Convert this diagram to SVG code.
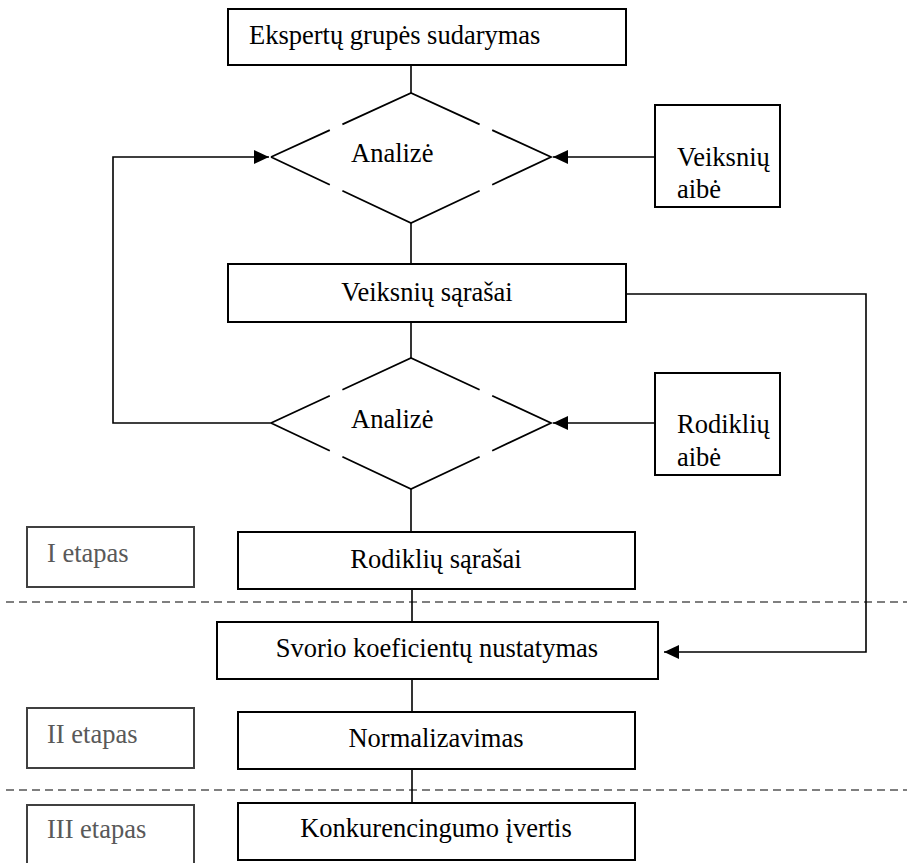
<svg xmlns="http://www.w3.org/2000/svg" width="907" height="863" viewBox="0 0 907 863">
  <style>
    .box { fill: #ffffff; stroke: #000000; stroke-width: 2; }
    .stage { fill: #ffffff; stroke: #404040; stroke-width: 2; }
    .diamond { fill: none; stroke: #000000; stroke-width: 1.8; stroke-linejoin: miter; }
    .link { fill: none; stroke: #000000; stroke-width: 1.6; }
    .sep { fill: none; stroke: #555555; stroke-width: 1.4; stroke-dasharray: 8 5; }
    text { font-family: "Liberation Serif", "Times New Roman", serif; font-size: 26.5px; fill: #000000; }
    .c { text-anchor: middle; }
    .stage-label { fill: #595959; }
  </style>
  <defs>
    <marker id="arrow" markerUnits="userSpaceOnUse" markerWidth="16" markerHeight="14" refX="15" refY="7" orient="auto">
      <path d="M0,0 L15,7 L0,14 Z" fill="#000000"/>
    </marker>
  </defs>

  <!-- stage separators -->
  <g id="separators">
    <line class="sep" x1="6" y1="602" x2="907" y2="602"/>
    <line class="sep" x1="6" y1="790" x2="907" y2="790"/>
  </g>

  <!-- connectors -->
  <g id="connectors">
    <line class="link" x1="411" y1="65" x2="411" y2="93"/>
    <line class="link" x1="411" y1="223" x2="411" y2="264"/>
    <line class="link" x1="411" y1="322" x2="411" y2="358"/>
    <line class="link" x1="411" y1="489" x2="411" y2="532"/>
    <line class="link" x1="412" y1="589" x2="412" y2="622"/>
    <line class="link" x1="412" y1="679" x2="412" y2="712"/>
    <line class="link" x1="412" y1="769" x2="412" y2="803"/>
    <path class="link" d="M655,157 H553" marker-end="url(#arrow)"/>
    <path class="link" d="M655,423 H553" marker-end="url(#arrow)"/>
    <path class="link" d="M271,423 H113 V157 H269" marker-end="url(#arrow)"/>
    <path class="link" d="M626,294 H866 V652 H664" marker-end="url(#arrow)"/>
  </g>

  <g id="expert-group">
    <rect class="box" x="228" y="9" width="398" height="56"/>
    <text x="249" y="44">Ekspertų grupės sudarymas</text>
  </g>

  <g id="analysis-1">
    <path class="diamond" d="M271,157 L329.8,130.1 M342.4,124.4 L411,93 L479.6,124.4 M492.2,130.1 L551,157 L492.2,184.7 M479.6,190.7 L411,223 L342.4,190.7 M329.8,184.7 L271,157"/>
    <text x="351" y="162">Analizė</text>
  </g>

  <g id="factor-set">
    <rect class="box" x="655" y="105" width="125" height="102"/>
    <text x="677" y="166">Veiksnių</text>
    <text x="677" y="198">aibė</text>
  </g>

  <g id="factor-lists">
    <rect class="box" x="228" y="264" width="398" height="58"/>
    <text class="c" x="427" y="301">Veiksnių sąrašai</text>
  </g>

  <g id="analysis-2">
    <path class="diamond" d="M271,423 L329.8,395.7 M342.4,389.8 L411,358 L479.6,389.8 M492.2,395.7 L551,423 L492.2,450.7 M479.6,456.7 L411,489 L342.4,456.7 M329.8,450.7 L271,423"/>
    <text x="351" y="428">Analizė</text>
  </g>

  <g id="indicator-set">
    <rect class="box" x="655" y="373" width="125" height="102"/>
    <text x="677" y="433">Rodiklių</text>
    <text x="677" y="466">aibė</text>
  </g>

  <g id="indicator-lists">
    <rect class="box" x="238" y="532" width="397" height="57"/>
    <text class="c" x="436" y="568">Rodiklių sąrašai</text>
  </g>

  <g id="weights">
    <rect class="box" x="217" y="622" width="441" height="57"/>
    <text class="c" x="437" y="657">Svorio koeficientų nustatymas</text>
  </g>

  <g id="normalization">
    <rect class="box" x="238" y="712" width="397" height="57"/>
    <text class="c" x="436" y="747">Normalizavimas</text>
  </g>

  <g id="competitiveness">
    <rect class="box" x="238" y="803" width="397" height="57"/>
    <text class="c" x="436" y="837">Konkurencingumo įvertis</text>
  </g>

  <g id="stage-1">
    <rect class="stage" x="27" y="527" width="167" height="60"/>
    <text class="stage-label" x="47" y="562">I etapas</text>
  </g>

  <g id="stage-2">
    <rect class="stage" x="27" y="708" width="167" height="60"/>
    <text class="stage-label" x="47" y="743">II etapas</text>
  </g>

  <g id="stage-3">
    <rect class="stage" x="27" y="805" width="167" height="70"/>
    <text class="stage-label" x="47" y="838">III etapas</text>
  </g>
</svg>
